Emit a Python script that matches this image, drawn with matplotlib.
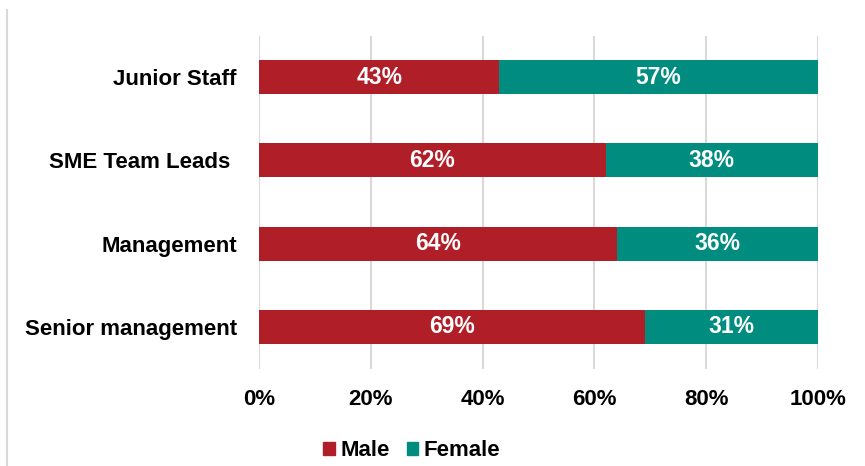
import matplotlib
matplotlib.use("Agg")
import matplotlib.pyplot as plt
from matplotlib.lines import Line2D
from matplotlib.patches import Patch

categories = ["Junior Staff", "SME Team Leads ", "Management", "Senior management"]
male = [43, 62, 64, 69]
female = [57, 38, 36, 31]
xticks = [0, 20, 40, 60, 80, 100]

RED = "#B01E28"
TEAL = "#008C7F"
GRID = "#D9D9D9"

plt.rcParams["font.family"] = ["Liberation Sans", "DejaVu Sans"]
plt.rcParams["font.weight"] = "bold"

fig = plt.figure(figsize=(8.65, 4.66), dpi=100)
ax = fig.add_axes([259 / 865, 1 - 368.5 / 466, (818 - 259) / 865, (368.5 - 35.5) / 466])

y = list(range(len(categories)))
h = 0.41
ax.barh(y, male, height=h, color=RED, zorder=3)
ax.barh(y, female, left=male, height=h, color=TEAL, zorder=3)

for yi, m, f in zip(y, male, female):
    ax.text(m / 2, yi, f"{m}%", ha="center", va="center", color="white",
            fontsize=16.5, fontweight="bold", zorder=4)
    ax.text(m + f / 2, yi, f"{f}%", ha="center", va="center", color="white",
            fontsize=16.5, fontweight="bold", zorder=4)

ax.set_xlim(0, 100)
ax.set_ylim(len(categories) - 0.5, -0.5)
ax.set_yticks(y)
ax.set_yticklabels(categories, fontsize=16, fontweight="bold")
ax.set_xticks(xticks)
ax.set_xticklabels([f"{t}%" for t in xticks], fontsize=16, fontweight="bold")
ax.tick_params(axis="both", length=0)
ax.tick_params(axis="y", pad=16)
ax.tick_params(axis="x", pad=15)
ax.grid(axis="x", color=GRID, linewidth=1.5, zorder=0)
for s in ax.spines.values():
    s.set_visible(False)

fig.add_artist(Line2D([7.5 / 865, 7.5 / 865], [0, 1 - 10 / 466],
                      transform=fig.transFigure, color=GRID, linewidth=1.5))

handles = [Patch(color=RED, label="Male"), Patch(color=TEAL, label="Female")]
fig.legend(handles=handles, loc="center", bbox_to_anchor=(412 / 865, 1 - 451 / 466),
           ncol=2, frameon=False, handlelength=0.5, handleheight=0.5,
           handletextpad=0.25, columnspacing=0.8, borderpad=0.2,
           prop={"weight": "bold", "size": 16})

fig.savefig("out.png", dpi=100)
